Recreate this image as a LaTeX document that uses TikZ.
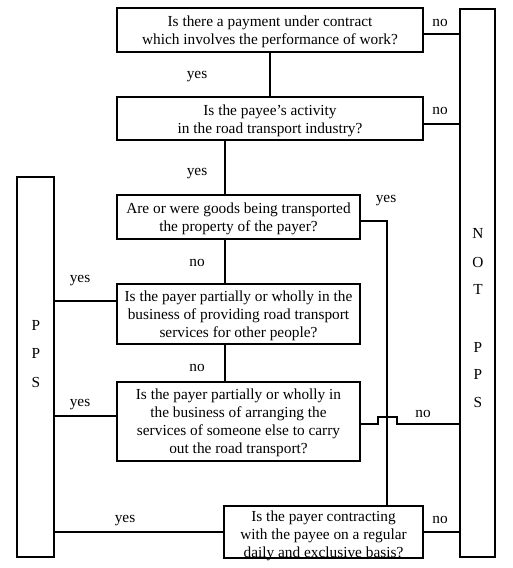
\documentclass[tikz,border=0pt]{standalone}
\usepackage{fontspec}
\setmainfont{Liberation Serif}
\begin{document}
\begin{tikzpicture}[x=0.75pt,y=-0.75pt,
  line width=1.5pt,
  qbox/.style={draw, rectangle, inner sep=0pt},
  qtext/.style={inner sep=0pt, align=center,
    font=\fontsize{11.5pt}{13.5pt}\selectfont},
  lbl/.style={inner sep=0pt, font=\fontsize{11.5pt}{13.5pt}\selectfont},
  letter/.style={inner sep=0pt, font=\fontsize{11.5pt}{13.5pt}\selectfont}]
\useasboundingbox (0,0) rectangle (512,568);
\fill[white] (0,0) rectangle (512,568);

% decision boxes
\node[qbox, minimum width=229.5pt, minimum height=33pt] (b1) at (270,30) {};
\node[qbox, minimum width=229.5pt, minimum height=32.25pt] (b2) at (270,118.5) {};
\node[qbox, minimum width=182.25pt, minimum height=33pt] (b3) at (238.5,217) {};
\node[qbox, minimum width=182.25pt, minimum height=45pt] (b4) at (238.5,314) {};
\node[qbox, minimum width=182.25pt, minimum height=59.25pt] (b5) at (238.5,421.5) {};
\node[qbox, minimum width=149.25pt, minimum height=39pt] (b7) at (323.5,532) {};

\node[qtext] (t1) at (270,32)
  {Is there a payment under contract\\which involves the performance of work?};
\node[qtext] (t2) at (270,120.5)
  {Is the payee's activity\\in the road transport industry?};
\node[qtext] (t3) at (238.5,218.5)
  {Are or were goods being transported\\the property of the payer?};
\node[qtext] (t4) at (238.5,316)
  {Is the payer partially or wholly in the\\business of providing road transport\\services for other people?};
\node[qtext] (t5) at (238.5,423)
  {Is the payer partially or wholly in\\the business of arranging the\\services of someone else to carry\\out the road transport?};
\node[qtext] (t7) at (323.5,536)
  {Is the payer contracting\\with the payee on a regular\\daily and exclusive basis?};

% outcome bars
\node[draw, rectangle, inner sep=0pt, minimum width=27.75pt, minimum height=285pt] (pps) at (35.5,367) {};
\node[draw, rectangle, inner sep=0pt, minimum width=26.25pt, minimum height=411pt] (nt) at (477.5,283) {};

\node[letter] (p1) at (36,325) {P};
\node[letter] (p2) at (36,353) {P};
\node[letter] (p3) at (36,382) {S};

\node[letter] (n1) at (478,233) {N};
\node[letter] (n2) at (478,262) {O};
\node[letter] (n3) at (478,289) {T};
\node[letter] (n4) at (478,347) {P};
\node[letter] (n5) at (478,374) {P};
\node[letter] (n6) at (478,402) {S};

% helper columns
\coordinate (spine) at (225,0);
\coordinate (rail) at (387,0);

% connectors
\draw (b1.south) -- (b2.north);
\draw (b2.south -| spine) -- (b3.north -| spine);
\draw (b3.south -| spine) -- (b4.north -| spine);
\draw (b4.south -| spine) -- (b5.north -| spine);

\draw ([yshift=-3pt]b1.east) -- ([yshift=-3pt]b1.east -| nt.west);
\draw ([yshift=-4pt]b2.east) -- ([yshift=-4pt]b2.east -| nt.west);
\draw ([yshift=-3pt]b3.east) -| (b7.north -| rail);
\draw ([yshift=9.75pt]b4.west) -- ([yshift=9.75pt]b4.west -| pps.east);
\draw ([yshift=4pt]b5.west) -- ([yshift=4pt]b5.west -| pps.east);
\draw ([yshift=-2pt]b5.east) -- ++(17,0) -- ++(0,-7) -- ++(19,0) -- ++(0,7)
  -- ([yshift=-2pt]b5.east -| nt.west);
\draw (b7.west) -- (b7.west -| pps.east);
\draw (b7.east) -- (b7.east -| nt.west);

% labels
\node[lbl] (no1) at (440,23) {no};
\node[lbl] (no2) at (440,111) {no};
\node[lbl] (no3) at (423,414) {no};
\node[lbl] (no4) at (440,520) {no};
\node[lbl] (no5) at (197,263) {no};
\node[lbl] (no6) at (197,368) {no};
\node[lbl] (y1) at (197,77) {yes};
\node[lbl] (y2) at (197,174) {yes};
\node[lbl] (y3) at (386,201) {yes};
\node[lbl] (y4) at (80,281) {yes};
\node[lbl] (y5) at (80,405) {yes};
\node[lbl] (y6) at (125,521) {yes};
\end{tikzpicture}
\end{document}
